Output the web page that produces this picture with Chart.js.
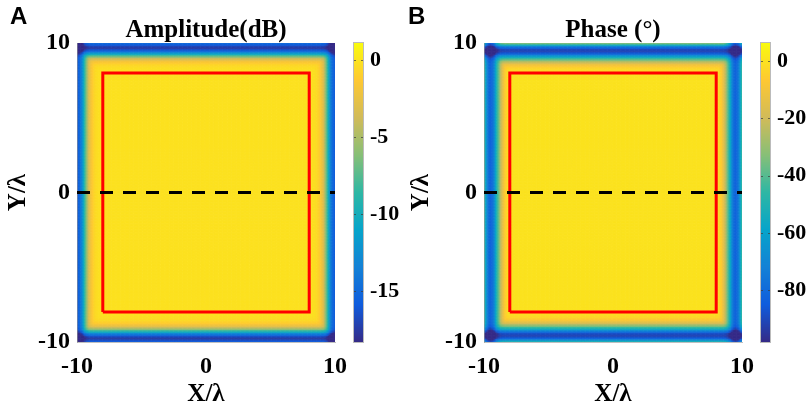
<!DOCTYPE html>
<html>
<head>
<meta charset="utf-8">
<script src="https://cdn.jsdelivr.net/npm/chart.js@4.4.0/dist/chart.umd.min.js"></script>
<style>
    html, body { margin: 0; padding: 0; background: #fff; }
    #wrap { position: relative; width: 807px; height: 408px; }
    canvas { position: absolute; top: 0; }
</style>
</head>
<body>
<div id="wrap">
    <canvas id="ampChart" width="403" height="408" style="left:0"></canvas>
    <canvas id="phaseChart" width="404" height="408" style="left:403px"></canvas>
</div>
<script>
// axes (in wavelengths)
const axisTicks = [-10, 0, 10];
const gridStep = 0.1;

// field values, every 0.1 λ going inwards from the edge
// (left/right edges = X, top/bottom edges = Y)
const ampEdgeX = [-16, -15.5, -15, -14, -12.5, -10.5, -8.5, -6.5, -4.8, -3.4, -2.4, -1.7, -1.2, -0.8, -0.5, -0.35, -0.25, -0.2, -0.15, -0.1, -0.1];
const ampEdgeY = [-15, -16, -17, -17.5, -16.5, -15, -13, -10.5, -8, -5.8, -4, -2.7, -1.8, -1.2, -0.8, -0.5, -0.35, -0.25, -0.15, -0.1, -0.1];
const phaseEdgeX = [-45, -55, -66, -75, -80, -82, -80, -76, -68, -58, -48, -39, -31, -23, -16, -11, -7, -4.5, -2, -1, 0];
const phaseEdgeY = [-35, -55, -72, -84, -90, -91, -88, -80, -68, -56, -45, -35, -26, -18, -12, -8, -5, -3, -2, -1, 0];

// colour limits and colorbar ticks
const ampLimits = [-18.3, 1.1];
const phaseLimits = [-98, 6.3];
const ampTicks = [0, -5, -10, -15];
const phaseTicks = [0, -20, -40, -60, -80];

// red aperture box and dashed cut line
const boxX = [-8, 8, 8, -8, -8];
const boxY = [-8, -8, 8, 8, -8];
const cutX = [-10, 10];
const cutY = [0, 0];

// parula-like colormap
const parula = ['#352a87', '#0f5cdd', '#1481d6', '#06a4ca', '#2eb7a4', '#87bf77', '#d1bb59', '#fec832', '#f9fb0e']
    .map(h => [parseInt(h.slice(1, 3), 16), parseInt(h.slice(3, 5), 16), parseInt(h.slice(5, 7), 16)]);

function colorFor(v, lo, hi) {
    let t = (v - lo) / (hi - lo);
    t = Math.max(0, Math.min(1, t)) * (parula.length - 1);
    const i = Math.min(Math.floor(t), parula.length - 2);
    const f = t - i;
    const a = parula[i], b = parula[i + 1];
    return 'rgb(' + Math.round(a[0] + (b[0] - a[0]) * f) + ',' + Math.round(a[1] + (b[1] - a[1]) * f) + ',' + Math.round(a[2] + (b[2] - a[2]) * f) + ')';
}

// build the 2-D table from the two edge profiles (rounded corners)
function buildField(profX, profY) {
    const n = Math.round(20 / gridStep) + 1;
    const p = 2.5;
    const rows = [];
    for (let j = 0; j < n; j++) {
        const row = [];
        const dy = Math.min(j, n - 1 - j, profY.length - 1);
        for (let i = 0; i < n; i++) {
            const dx = Math.min(i, n - 1 - i, profX.length - 1);
            const a = Math.abs(profX[dx]), b = Math.abs(profY[dy]);
            row.push(-Math.pow(Math.pow(a, p) + Math.pow(b, p), 1 / p));
        }
        rows.push(row);
    }
    return rows;
}

const heatmap = {
    id: 'heatmap',
    beforeDraw(chart, args, opts) {
        const { ctx, chartArea: a, scales: { x, y, cb } } = chart;
        const field = opts.field;
        const n = field.length;
        ctx.save();
        ctx.beginPath();
        ctx.rect(a.left, a.top, a.width, a.height);
        ctx.clip();
        for (let j = 0; j < n; j++) {
            const yv = axisTicks[0] + j * gridStep;
            const y0 = y.getPixelForValue(yv + gridStep / 2);
            const y1 = y.getPixelForValue(yv - gridStep / 2);
            for (let i = 0; i < n; i++) {
                const xv = axisTicks[0] + i * gridStep;
                const x0 = x.getPixelForValue(xv - gridStep / 2);
                const x1 = x.getPixelForValue(xv + gridStep / 2);
                ctx.fillStyle = colorFor(field[j][i], cb.min, cb.max);
                ctx.fillRect(x0, y0, x1 - x0 + 0.6, y1 - y0 + 0.6);
            }
        }
        ctx.restore();

        // colorbar
        ctx.save();
        const bx = cb.left + 19, bw = 9;
        for (let py = Math.floor(cb.top); py < Math.ceil(cb.bottom); py++) {
            ctx.fillStyle = colorFor(cb.getValueForPixel(py + 0.5), cb.min, cb.max);
            ctx.fillRect(bx, py, bw, 1);
        }
        ctx.strokeStyle = 'rgba(120,120,120,0.5)';
        ctx.lineWidth = 1;
        ctx.strokeRect(bx - 0.5, cb.top - 0.5, bw + 1, cb.bottom - cb.top + 1);
        ctx.strokeStyle = 'rgba(60,60,60,0.7)';
        cb.ticks.forEach(t => {
            const py = Math.round(cb.getPixelForValue(t.value)) + 0.5;
            ctx.beginPath();
            ctx.moveTo(bx, py); ctx.lineTo(bx + 2, py);
            ctx.moveTo(bx + bw, py); ctx.lineTo(bx + bw - 2, py);
            ctx.stroke();
        });
        ctx.restore();
    },
    afterDraw(chart, args, opts) {
        const { ctx, chartArea: a } = chart;
        ctx.save();
        ctx.fillStyle = '#000';
        ctx.textBaseline = 'middle';
        ctx.textAlign = 'center';
        ctx.font = 'bold 25px "Liberation Serif"';
        ctx.fillText(opts.title, (a.left + a.right) / 2, 31);
        ctx.textAlign = 'left';
        ctx.font = 'bold 24px "Liberation Sans"';
        ctx.fillText(opts.letter, opts.letterX, 17);
        ctx.restore();
    }
};

const tickFont = { family: 'Liberation Serif', size: 24, weight: 'bold' };
const titleFont = { family: 'Liberation Serif', size: 25, weight: 'bold', lineHeight: 1.05 };

function makeChart(id, field, limits, cbTicks, title, letter, letterX, yWidth, cbWidth) {
    const ctx = document.getElementById(id).getContext('2d');
    return new Chart(ctx, {
        type: 'scatter',
        data: {
            datasets: [
                {
                    data: cutX.map((v, i) => ({ x: v, y: cutY[i] })),
                    showLine: true,
                    borderColor: '#000',
                    borderWidth: 3,
                    borderDash: [13, 10],
                    pointRadius: 0,
                    clip: { left: 0, right: 4, top: 0, bottom: 0 }
                },
                {
                    data: boxX.map((v, i) => ({ x: v, y: boxY[i] })),
                    showLine: true,
                    borderColor: '#ff0000',
                    borderWidth: 3,
                    pointRadius: 0
                }
            ]
        },
        options: {
            responsive: false,
            animation: false,
            layout: { padding: { top: 43, left: 0, right: 0, bottom: 0 } },
            plugins: {
                legend: { display: false },
                tooltip: { enabled: false },
                heatmap: { field: field, title: title, letter: letter, letterX: letterX }
            },
            scales: {
                x: {
                    type: 'linear', position: 'bottom', min: -10, max: 10,
                    afterBuildTicks: s => { s.ticks = axisTicks.map(v => ({ value: v })); },
                    afterFit: s => { s.height = 66; },
                    grid: { display: false, drawTicks: false },
                    border: { display: true, color: 'rgba(150,150,150,0.6)' },
                    ticks: { color: '#000', font: tickFont, padding: 10, maxRotation: 0, autoSkip: false },
                    title: { display: true, text: 'X/λ', color: '#000', font: titleFont, padding: { top: 0, bottom: 0 } }
                },
                y: {
                    type: 'linear', position: 'left', min: -10, max: 10,
                    afterBuildTicks: s => { s.ticks = axisTicks.map(v => ({ value: v })); },
                    afterFit: s => { s.width = yWidth; },
                    grid: { display: false, drawTicks: false },
                    border: { display: true, color: 'rgba(150,150,150,0.6)' },
                    ticks: { color: '#000', font: tickFont, padding: 7, autoSkip: false },
                    title: { display: true, text: 'Y/λ', color: '#000', font: titleFont, padding: { top: 5, bottom: 0 } }
                },
                cb: {
                    type: 'linear', axis: 'y', position: 'right', min: limits[0], max: limits[1],
                    afterBuildTicks: s => { s.ticks = cbTicks.map(v => ({ value: v })); },
                    afterFit: s => { s.width = cbWidth; },
                    grid: { display: false, drawTicks: true, tickLength: 28 },
                    border: { display: false },
                    ticks: { color: '#000', font: { family: 'Liberation Serif', size: 22, weight: 'bold' }, padding: 7, autoSkip: false }
                }
            }
        },
        plugins: [heatmap]
    });
}

makeChart('ampChart', buildField(ampEdgeX, ampEdgeY), ampLimits, ampTicks, 'Amplitude(dB)', 'A', 10, 77, 68);
makeChart('phaseChart', buildField(phaseEdgeX, phaseEdgeY), phaseLimits, phaseTicks, 'Phase (°)', 'B', 5, 81, 65);
</script>
</body>
</html>
